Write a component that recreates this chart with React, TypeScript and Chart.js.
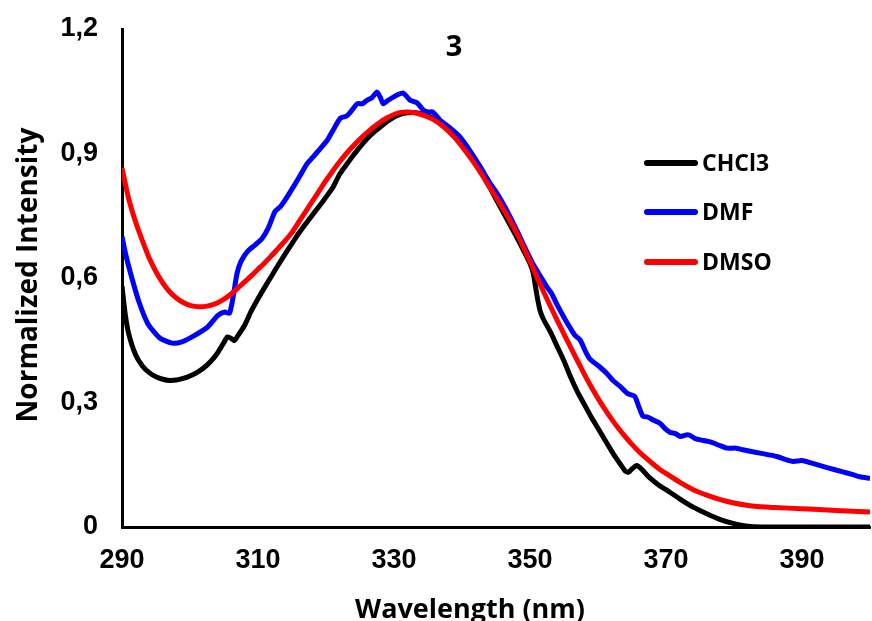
import React, { useEffect, useRef } from 'react';
import { Chart, registerables } from 'chart.js';

Chart.register(...registerables);

const TITLE = '3';
const X_TITLE = 'Wavelength (nm)';
const Y_TITLE = 'Normalized Intensity';

const X_TICKS = [290, 310, 330, 350, 370, 390];
const Y_TICKS = [0, 0.3, 0.6, 0.9, 1.2];
const Y_TICK_LABELS = ['0', '0,3', '0,6', '0,9', '1,2'];

const SERIES_NAMES = ['CHCl3', 'DMF', 'DMSO'];
const SERIES_COLORS = ['#000000', '#0000ff', '#ff0000'];

const CHCL3_X = [290, 290.5, 291, 292, 293, 294, 295, 296, 297, 298, 299, 300, 301, 302, 303, 304, 305, 305.5, 306, 306.5, 307, 308, 309, 310, 311, 312, 313, 314, 315, 316, 317, 318, 319, 320, 321, 322, 323, 324, 325, 326, 327, 328, 329, 330, 331, 332, 333, 334, 335, 336, 337, 338, 339, 340, 341, 342, 343, 344, 345, 346, 347, 348, 349, 350, 350.5, 351, 351.5, 352, 353, 354, 355, 356, 357, 358, 359, 360, 361, 362, 363, 364, 364.5, 365, 365.7, 366.5, 367.5, 369, 370, 372, 374, 376, 378, 380, 382, 384, 390, 400];
const CHCL3_Y = [0.58, 0.51, 0.465, 0.415, 0.388, 0.372, 0.362, 0.356, 0.353, 0.354, 0.358, 0.364, 0.372, 0.383, 0.398, 0.418, 0.445, 0.458, 0.455, 0.449, 0.46, 0.485, 0.52, 0.55, 0.578, 0.605, 0.632, 0.658, 0.683, 0.708, 0.73, 0.752, 0.773, 0.795, 0.818, 0.85, 0.873, 0.895, 0.916, 0.935, 0.951, 0.964, 0.977, 0.988, 0.995, 0.998, 0.999, 0.996, 0.99, 0.983, 0.975, 0.963, 0.948, 0.932, 0.91, 0.885, 0.855, 0.822, 0.79, 0.76, 0.73, 0.7, 0.668, 0.635, 0.61, 0.56, 0.52, 0.5, 0.47, 0.435, 0.4, 0.36, 0.325, 0.295, 0.265, 0.238, 0.21, 0.183, 0.158, 0.135, 0.132, 0.14, 0.148, 0.138, 0.12, 0.1, 0.09, 0.068, 0.048, 0.032, 0.018, 0.008, 0.002, 0, 0, 0];

const DMF_X = [290, 290.5, 291.2, 292.4, 293.8, 295.6, 297.4, 298.8, 300.3, 302.6, 304.1, 305.1, 305.8, 306.3, 306.9, 307.5, 308.5, 309.6, 310.6, 311.5, 312.5, 313.3, 314.0, 315.4, 316.3, 317.2, 318.0, 318.7, 320.1, 321.0, 322.1, 323.0, 323.5, 324.6, 325.4, 326.0, 326.8, 327.5, 328.0, 328.4, 329.1, 329.9, 330.6, 331.3, 332.0, 332.4, 333.4, 334.3, 335.0, 335.7, 336.8, 338.2, 339.7, 341.0, 342.6, 344.0, 345.3, 346.3, 347.3, 348.2, 349.0, 350.4, 351.5, 352.5, 353.2, 354.0, 355.0, 355.9, 356.6, 357.4, 358.1, 358.8, 360.3, 361.3, 362.2, 363.3, 364.3, 365.4, 366.0, 366.6, 367.3, 368.1, 369.1, 370.0, 370.6, 371.4, 372.1, 373.0, 373.5, 374.3, 375.0, 376.5, 377.8, 379.0, 380.3, 381.3, 383.8, 386.3, 387.5, 388.7, 390.0, 391.2, 393.7, 396.0, 397.5, 398.5, 400.0];
const DMF_Y = [0.70, 0.66, 0.615, 0.547, 0.49, 0.455, 0.443, 0.446, 0.458, 0.482, 0.51, 0.518, 0.515, 0.55, 0.61, 0.64, 0.665, 0.68, 0.695, 0.72, 0.76, 0.772, 0.788, 0.825, 0.85, 0.875, 0.89, 0.903, 0.93, 0.955, 0.985, 0.99, 0.998, 1.02, 1.02, 1.028, 1.035, 1.048, 1.035, 1.02, 1.028, 1.036, 1.042, 1.046, 1.035, 1.028, 1.022, 1.005, 1.0, 1.0, 0.98, 0.962, 0.94, 0.91, 0.87, 0.832, 0.8, 0.772, 0.74, 0.71, 0.682, 0.635, 0.605, 0.578, 0.562, 0.535, 0.505, 0.48, 0.462, 0.45, 0.425, 0.405, 0.385, 0.37, 0.353, 0.338, 0.322, 0.315, 0.29, 0.267, 0.265, 0.258, 0.25, 0.235, 0.228, 0.225, 0.218, 0.222, 0.221, 0.213, 0.21, 0.205, 0.197, 0.19, 0.19, 0.186, 0.178, 0.17, 0.163, 0.158, 0.16, 0.155, 0.143, 0.133, 0.126, 0.121, 0.117];

const DMSO_X = [290, 291, 292, 293, 294, 295, 296, 297, 298, 299, 300, 301, 302, 303, 304, 305, 306, 307, 308, 309, 310, 311, 312, 313, 314, 315, 316, 317, 318, 319, 320, 321, 322, 323, 324, 325, 326, 327, 328, 329, 330, 331, 332, 333, 334, 335, 336, 337, 338, 339, 340, 341, 342, 343, 344, 345, 346, 347, 348, 349, 350, 351, 352, 353, 354, 355, 356, 357, 358, 359, 360, 361, 362, 363, 364, 365, 366, 367, 368, 369, 370, 372, 374, 376, 378, 380, 383, 386, 390, 395, 400];
const DMSO_Y = [0.865, 0.79, 0.735, 0.69, 0.648, 0.615, 0.588, 0.567, 0.552, 0.541, 0.534, 0.531, 0.531, 0.534, 0.54, 0.549, 0.561, 0.575, 0.59, 0.605, 0.621, 0.637, 0.654, 0.672, 0.69, 0.71, 0.735, 0.76, 0.785, 0.81, 0.835, 0.858, 0.88, 0.9, 0.918, 0.935, 0.95, 0.964, 0.976, 0.986, 0.994, 0.999, 1.0, 0.998, 0.994, 0.988, 0.98, 0.968, 0.954, 0.937, 0.917, 0.895, 0.872, 0.847, 0.82, 0.795, 0.768, 0.74, 0.71, 0.676, 0.64, 0.603, 0.567, 0.532, 0.498, 0.465, 0.432, 0.4, 0.368, 0.338, 0.31, 0.284, 0.26, 0.238, 0.218, 0.199, 0.182, 0.167, 0.153, 0.14, 0.129, 0.108, 0.09, 0.077, 0.066, 0.058, 0.05, 0.047, 0.044, 0.04, 0.036];

const SERIES_X = [CHCL3_X, DMF_X, DMSO_X];
const SERIES_Y = [CHCL3_Y, DMF_Y, DMSO_Y];

const TICK_FONT = { family: '"Liberation Sans", Arial, sans-serif', size: 27, weight: 'bold' as const };
const LABEL_FAMILY = '"Open Sans", "Noto Sans", sans-serif';

const annotations = {
  id: 'annotations',
  afterDraw(chart: any) {
    const ctx = chart.ctx as CanvasRenderingContext2D;
    ctx.save();
    ctx.fillStyle = '#000';
    // title
    ctx.font = `bold 29px ${LABEL_FAMILY}`;
    ctx.textAlign = 'center';
    ctx.textBaseline = 'alphabetic';
    ctx.fillText(TITLE, 454, 56);
    // x title
    ctx.font = `bold 27px ${LABEL_FAMILY}`;
    ctx.fillText(X_TITLE, 470, 618);
    // y title
    ctx.save();
    ctx.translate(37, 275);
    ctx.rotate(-Math.PI / 2);
    ctx.font = `bold 28px ${LABEL_FAMILY}`;
    ctx.fillText(Y_TITLE, 0, 0);
    ctx.restore();
    // legend
    const legendY = [163, 212, 262];
    ctx.font = `bold 23px ${LABEL_FAMILY}`;
    ctx.textAlign = 'left';
    ctx.textBaseline = 'middle';
    SERIES_NAMES.forEach((name, i) => {
      ctx.strokeStyle = SERIES_COLORS[i];
      ctx.lineWidth = 6;
      ctx.lineCap = 'round';
      ctx.beginPath();
      ctx.moveTo(647, legendY[i]);
      ctx.lineTo(695, legendY[i]);
      ctx.stroke();
      ctx.fillStyle = '#000';
      ctx.fillText(name, 702, legendY[i] + 1);
    });
    ctx.restore();
  },
};

const zeroPadding = (s: any) => {
  s.paddingTop = 0;
  s.paddingBottom = 0;
  s.paddingLeft = 0;
  s.paddingRight = 0;
};

export default function App() {
  const ref = useRef<HTMLCanvasElement | null>(null);

  useEffect(() => {
    document.body.style.margin = '0';
    const canvas = ref.current;
    if (!canvas) return;
    const chart = new Chart(canvas, {
      type: 'line',
      data: {
        datasets: SERIES_NAMES.map((name, i) => ({
          label: name,
          data: SERIES_X[i].map((x, j) => ({ x, y: SERIES_Y[i][j] })),
          borderColor: SERIES_COLORS[i],
          backgroundColor: SERIES_COLORS[i],
          borderWidth: 5,
          pointRadius: 0,
          tension: 0.2,
          order: 3 - i,
        })),
      },
      options: {
        responsive: false,
        animation: false,
        events: [],
        layout: { padding: { top: 29, right: 2, left: 0, bottom: 0 } },
        plugins: {
          legend: { display: false },
          tooltip: { enabled: false },
          title: { display: false },
        },
        scales: {
          x: {
            type: 'linear',
            min: 290,
            max: 400,
            afterBuildTicks: (s: any) => {
              s.ticks = X_TICKS.map((v) => ({ value: v }));
            },
            afterFit: (s: any) => {
              s.height = 94;
              zeroPadding(s);
            },
            grid: { display: false, drawTicks: false },
            border: { display: true, color: '#000', width: 3 },
            ticks: {
              color: '#000',
              font: TICK_FONT,
              padding: 17,
              autoSkip: false,
              maxRotation: 0,
              callback: (v: any) => String(v),
            },
          },
          y: {
            type: 'linear',
            min: 0,
            max: 1.2,
            afterBuildTicks: (s: any) => {
              s.ticks = Y_TICKS.map((v) => ({ value: v }));
            },
            afterFit: (s: any) => {
              s.width = 122;
              zeroPadding(s);
            },
            grid: { display: false, drawTicks: false },
            border: { display: true, color: '#000', width: 3 },
            ticks: {
              color: '#000',
              font: TICK_FONT,
              padding: 24,
              callback: (_v: any, i: number) => Y_TICK_LABELS[i],
            },
          },
        },
      },
      plugins: [annotations],
    });
    return () => chart.destroy();
  }, []);

  return <canvas ref={ref} width={872} height={621} style={{ display: 'block' }} />;
}
